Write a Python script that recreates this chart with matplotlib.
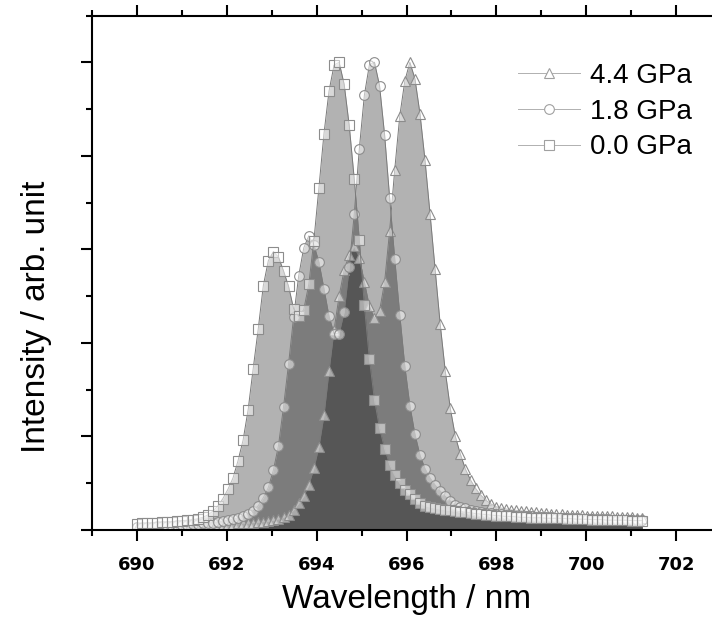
import numpy as np
import matplotlib
matplotlib.use("Agg")
import matplotlib.pyplot as plt
from matplotlib.ticker import MultipleLocator

# ================= Data =================
# wavelength sampling grid of the spectrometer (nm)
wl_start = 690.0
wl_step = 0.1125
n_points = 101
wavelength = wl_start + wl_step * np.arange(n_points)

labels = ["4.4 GPa", "1.8 GPa", "0.0 GPa"]

int_44 = [0.004, 0.004, 0.005, 0.005, 0.005, 0.006, 0.006, 0.006, 0.007, 0.007,
          0.007, 0.008, 0.008, 0.009, 0.009, 0.010, 0.010, 0.011, 0.012, 0.013,
          0.014, 0.015, 0.015, 0.016, 0.017, 0.018, 0.019, 0.021, 0.024, 0.027,
          0.033, 0.043, 0.057, 0.072, 0.096, 0.132, 0.178, 0.245, 0.340, 0.428,
          0.500, 0.556, 0.588, 0.607, 0.582, 0.530, 0.478, 0.453, 0.468, 0.530,
          0.640, 0.770, 0.885, 0.960, 1.000, 0.965, 0.890, 0.790, 0.675, 0.557,
          0.440, 0.340, 0.260, 0.200, 0.162, 0.130, 0.107, 0.089, 0.075, 0.064,
          0.056, 0.050, 0.047, 0.045, 0.043, 0.042, 0.041, 0.040, 0.039, 0.038,
          0.037, 0.036, 0.035, 0.035, 0.034, 0.033, 0.033, 0.032, 0.032, 0.031,
          0.031, 0.030, 0.030, 0.029, 0.029, 0.028, 0.028, 0.027, 0.027, 0.026, 0.026]

int_18 = [0.006, 0.006, 0.007, 0.007, 0.008, 0.008, 0.009, 0.009, 0.010, 0.010,
          0.011, 0.012, 0.013, 0.014, 0.015, 0.016, 0.017, 0.019, 0.021, 0.023,
          0.026, 0.030, 0.035, 0.041, 0.052, 0.069, 0.091, 0.128, 0.180, 0.263,
          0.355, 0.455, 0.543, 0.603, 0.629, 0.610, 0.573, 0.516, 0.457, 0.420,
          0.420, 0.466, 0.562, 0.676, 0.815, 0.930, 0.995, 1.000, 0.950, 0.845,
          0.710, 0.580, 0.460, 0.350, 0.266, 0.205, 0.160, 0.131, 0.111, 0.096,
          0.083, 0.072, 0.062, 0.054, 0.050, 0.047, 0.043, 0.041, 0.039, 0.037,
          0.036, 0.035, 0.034, 0.033, 0.032, 0.031, 0.030, 0.029, 0.029, 0.028,
          0.028, 0.027, 0.027, 0.026, 0.026, 0.026, 0.025, 0.025, 0.024, 0.024,
          0.024, 0.023, 0.023, 0.023, 0.022, 0.022, 0.022, 0.022, 0.021, 0.021, 0.021]

int_00 = [0.013, 0.014, 0.015, 0.015, 0.016, 0.017, 0.017, 0.018, 0.019, 0.020,
          0.021, 0.022, 0.024, 0.027, 0.032, 0.040, 0.051, 0.067, 0.087, 0.111,
          0.148, 0.192, 0.257, 0.345, 0.430, 0.522, 0.576, 0.595, 0.584, 0.554,
          0.521, 0.473, 0.457, 0.471, 0.525, 0.618, 0.731, 0.847, 0.938, 0.994,
          1.000, 0.953, 0.865, 0.750, 0.620, 0.480, 0.365, 0.278, 0.218, 0.174,
          0.140, 0.117, 0.100, 0.086, 0.076, 0.066, 0.058, 0.052, 0.049, 0.047,
          0.045, 0.043, 0.042, 0.040, 0.039, 0.038, 0.037, 0.035, 0.034, 0.033,
          0.032, 0.031, 0.030, 0.029, 0.029, 0.028, 0.027, 0.027, 0.026, 0.026,
          0.026, 0.025, 0.025, 0.025, 0.025, 0.024, 0.024, 0.023, 0.023, 0.023,
          0.022, 0.022, 0.022, 0.021, 0.021, 0.021, 0.021, 0.021, 0.020, 0.020, 0.020]

series = [int_44, int_18, int_00]
markers = ["^", "o", "s"]
msizes = [7.5, 7, 6.5]

# ================= Figure =================
fig = plt.figure(figsize=(7.12, 6.27), dpi=100)
ax = fig.add_axes([92 / 712, 97 / 627, 629 / 712, 514.5 / 627])

for y, m, ms, lab in zip(series, markers, msizes, labels):
    ax.fill_between(wavelength, 0, y, color="black", alpha=0.3, linewidth=0)
    ax.plot(wavelength, y, color="#7a7a7a", lw=0.7, marker=m, ms=ms,
            mfc=(1, 1, 1, 0.5), mec="#8c8c8c", mew=0.8, label=lab)

ax.set_xlim(689, 703)
ax.set_ylim(0, 1.1)

ax.xaxis.set_major_locator(MultipleLocator(2))
ax.xaxis.set_minor_locator(MultipleLocator(1))
ax.yaxis.set_major_locator(MultipleLocator(0.2))
ax.yaxis.set_minor_locator(MultipleLocator(0.1))

ax.spines["right"].set_visible(False)
for s in ["left", "bottom", "top"]:
    ax.spines[s].set_linewidth(1.5)

ax.tick_params(which="both", direction="out", width=1.5, top=True, right=False,
               labelleft=False, labeltop=False)
ax.tick_params(which="major", length=8)
ax.tick_params(which="minor", length=4.5)
ax.tick_params(axis="x", which="major", pad=11)

for t in ax.get_xticklabels():
    t.set_fontweight("bold")
    t.set_fontsize(13)
    t.set_family("DejaVu Sans")

ax.set_xlabel("Wavelength / nm", fontsize=24, family="Liberation Sans", labelpad=7)
ax.set_ylabel("Intensity / arb. unit", fontsize=24, family="Liberation Sans")
ax.yaxis.set_label_coords(-0.064, 0.414)

leg = ax.legend(loc="upper left", bbox_to_anchor=(518 / 712, 1 - 63 / 627),
                bbox_transform=fig.transFigure, frameon=False, borderpad=0,
                borderaxespad=0, handlelength=2.24, handletextpad=0.35,
                labelspacing=0.35, numpoints=1, prop={"family": "Liberation Sans", "size": 20})
for h in leg.legend_handles:
    h.set_color("#b0b0b0")
    h.set_markeredgecolor("#a0a0a0")
    h.set_markerfacecolor("white")

fig.savefig("out.png", dpi=100)
